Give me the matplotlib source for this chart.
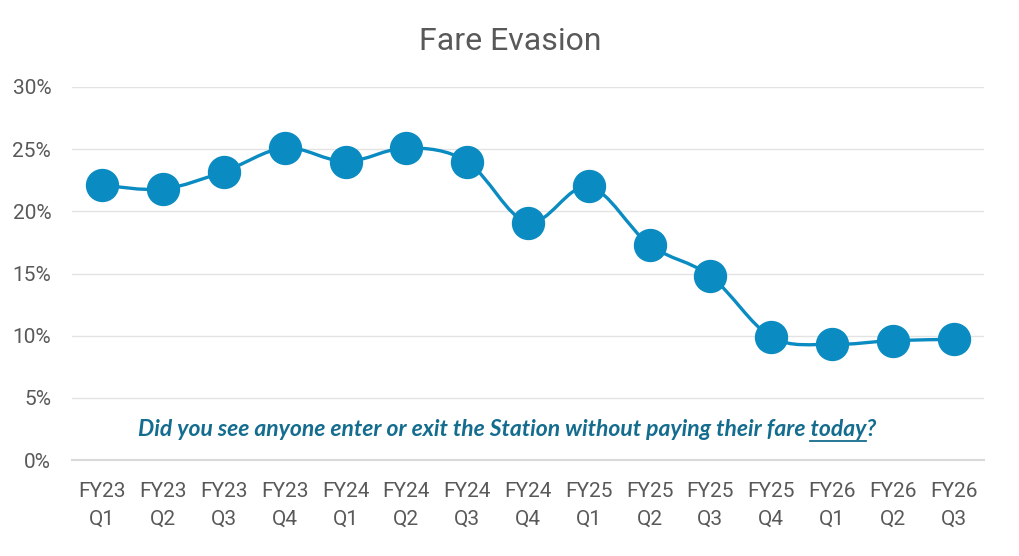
import matplotlib
matplotlib.use("Agg")
import matplotlib.pyplot as plt
from matplotlib.path import Path
from matplotlib.patches import PathPatch
import numpy as np

categories = ["FY23\nQ1", "FY23\nQ2", "FY23\nQ3", "FY23\nQ4", "FY24\nQ1", "FY24\nQ2",
              "FY24\nQ3", "FY24\nQ4", "FY25\nQ1", "FY25\nQ2", "FY25\nQ3", "FY25\nQ4",
              "FY26\nQ1", "FY26\nQ2", "FY26\nQ3"]
values = [22.1, 21.8, 23.2, 25.1, 24.0, 25.1, 24.0, 19.1, 22.0, 17.3, 14.8, 9.9, 9.3, 9.6, 9.7]
yticks = [0, 5, 10, 15, 20, 25, 30]
ytick_labels = ["0%", "5%", "10%", "15%", "20%", "25%", "30%"]
title = "Fare Evasion"
note_before = "Did you see anyone enter or exit the Station without paying their fare "
note_under = "today"
note_after = "?"

blue = "#0A8BC1"
gray = "#595959"

fig = plt.figure(figsize=(10.2, 5.56), dpi=100)
ax = fig.add_axes([72 / 1020, 1 - 460 / 556, 912 / 1020, 373 / 556])

x = np.arange(len(values))
y = np.array(values, dtype=float)

# smoothed line (Catmull-Rom style Bezier through data points)
verts = [(x[0], y[0])]
codes = [Path.MOVETO]
n = len(x)
for i in range(n - 1):
    p0 = np.array([x[max(i - 1, 0)], y[max(i - 1, 0)]])
    p1 = np.array([x[i], y[i]])
    p2 = np.array([x[i + 1], y[i + 1]])
    p3 = np.array([x[min(i + 2, n - 1)], y[min(i + 2, n - 1)]])
    c1 = p1 + (p2 - p0) / 6.0
    c2 = p2 - (p3 - p1) / 6.0
    verts += [tuple(c1), tuple(c2), tuple(p2)]
    codes += [Path.CURVE4] * 3
ax.add_patch(PathPatch(Path(verts, codes), facecolor="none", edgecolor=blue,
                       lw=2.4, zorder=3, capstyle="round", joinstyle="round"))
ax.plot(x, y, linestyle="none", marker="o", markersize=23, color=blue, zorder=4)

ax.set_xlim(-0.5, n - 0.5)
ax.set_ylim(0, 30)
ax.set_yticks(yticks)
ax.set_yticklabels(ytick_labels)
ax.set_xticks(x)
ax.set_xticklabels(categories, linespacing=1.55)
ax.grid(axis="y", color="#E3E3E3", lw=1.0, zorder=0)
ax.set_axisbelow(True)
for s in ["top", "right", "left"]:
    ax.spines[s].set_visible(False)
ax.spines["bottom"].set_color("#D9D9D9")
ax.spines["bottom"].set_linewidth(1.5)
ax.tick_params(axis="both", length=0, colors=gray, labelsize=15)
ax.tick_params(axis="y", pad=15)
ax.tick_params(axis="x", pad=16)
for lab in ax.get_xticklabels() + ax.get_yticklabels():
    lab.set_fontfamily(["Roboto", "DejaVu Sans"])
    lab.set_color(gray)

fig.text(510 / 1020, 1 - 42 / 556, title, ha="center", va="center",
         fontsize=23, color=gray, family=["Roboto", "DejaVu Sans"])

# annotation with underlined word
note_color = "#146C8E"
full = note_before + note_under + note_after
fprops = dict(fontsize=16.5, color=note_color, fontweight="bold", fontstyle="italic",
              family=["Lato", "DejaVu Sans"])
cx, cy = 507 / 1020, 1 - 436 / 556
t_full = fig.text(cx, cy, full, ha="center", va="baseline", **fprops)
fig.canvas.draw()
r = fig.canvas.get_renderer()
bb_full = t_full.get_window_extent(r)
tmp1 = fig.text(0, 0, note_before + note_under, **fprops)
tmp2 = fig.text(0, 0, note_before, **fprops)
w1 = tmp1.get_window_extent(r).width
w2 = tmp2.get_window_extent(r).width
tmp1.remove(); tmp2.remove()
x0 = bb_full.x0 + w2
x1 = bb_full.x0 + w1
ybase = cy * fig.bbox.height - 5
fig.add_artist(plt.Line2D([x0 / fig.bbox.width, x1 / fig.bbox.width],
                          [ybase / fig.bbox.height] * 2, color=note_color, lw=1.3))

fig.savefig("out.png", dpi=100)
